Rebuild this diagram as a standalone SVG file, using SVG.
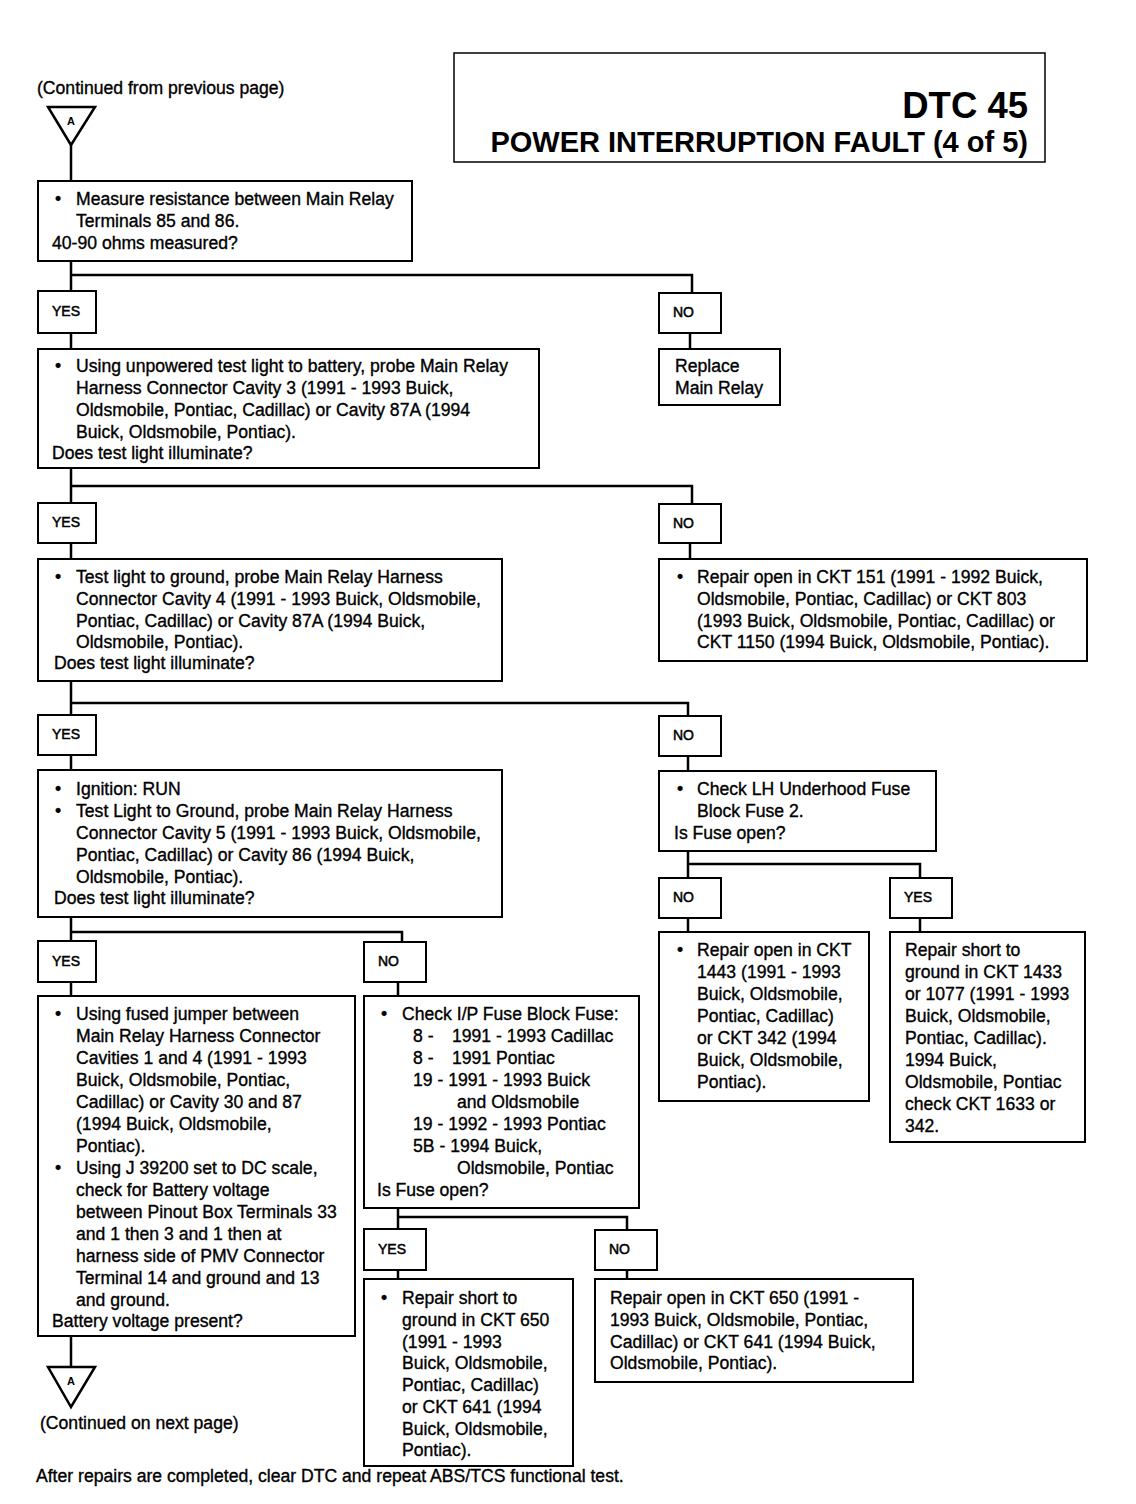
<svg xmlns="http://www.w3.org/2000/svg" width="1136" height="1504" viewBox="0 0 1136 1504">
<style>
.b{fill:#fff;stroke:#000;stroke-width:2}
.h{fill:#fff;stroke:#000;stroke-width:1.5}
.c{fill:none;stroke:#000;stroke-width:2.5}
.t{fill:#fff;stroke:#000;stroke-width:2.5}
text{font-family:"Liberation Sans",Arial,sans-serif;font-size:17.6px;fill:#000;stroke:#000;stroke-width:0.35}
.l{font-size:14px;stroke-width:0.5}
.a{font-size:11px;font-weight:bold;text-anchor:middle;stroke-width:0}
.ti{font-weight:bold;text-anchor:end;stroke-width:0}
</style>
<rect width="1136" height="1504" fill="#fff"/>

<g id="connectors">
<path class="c" d="M71,145 V181"/>
<path class="c" d="M71,261 V291 M71,275 H692 V293 M71,333 V349 M690,333 V349"/>
<path class="c" d="M71,468 V503 M71,486 H692 V504 M71,543 V559 M690,543 V559"/>
<path class="c" d="M71,681 V715 M71,703 H688 V716 M71,755 V770 M688,756 V771"/>
<path class="c" d="M688,851 V878 M688,864 H920 V878 M688,918 V932 M920,918 V932"/>
<path class="c" d="M71,917 V941 M71,932 H402 V942 M71,982 V996 M398,982 V996"/>
<path class="c" d="M398,1208 V1229 M398,1217 H627 V1230 M398,1270 V1279 M627,1270 V1279"/>
<path class="c" d="M71,1336 V1367"/>
</g>

<g id="header">
<rect class="h" x="454" y="53" width="591" height="109"/>
<text class="ti" x="1028" y="118" style="font-size:36.5px">DTC 45</text>
<text class="ti" x="1028" y="152" style="font-size:29px">POWER INTERRUPTION FAULT (4 of 5)</text>
</g>

<g id="start">
<text x="37" y="94">(Continued from previous page)</text>
<polygon class="t" points="48,107 95,107 71,145"/>
<text class="a" x="71" y="125">A</text>
</g>

<g id="box1">
<rect class="b" x="38" y="181" width="374" height="80"/>
<text x="55" y="205">•</text><text x="76" y="205">Measure resistance between Main Relay</text>
<text x="76" y="227">Terminals 85 and 86.</text>
<text x="52" y="249">40-90 ohms measured?</text>
</g>

<g id="yes1"><rect class="b" x="38" y="291" width="58" height="42"/><text class="l" x="52" y="316">YES</text></g>
<g id="no1"><rect class="b" x="659" y="293" width="62" height="40"/><text class="l" x="673" y="317">NO</text></g>

<g id="replace">
<rect class="b" x="659" y="349" width="121" height="56"/>
<text x="675" y="372">Replace</text>
<text x="675" y="394">Main Relay</text>
</g>

<g id="box2">
<rect class="b" x="38" y="349" width="501" height="119"/>
<text x="55" y="372">•</text><text x="76" y="372">Using unpowered test light to battery, probe Main Relay</text>
<text x="76" y="394">Harness Connector Cavity 3 (1991 - 1993 Buick,</text>
<text x="76" y="416">Oldsmobile, Pontiac, Cadillac) or Cavity 87A (1994</text>
<text x="76" y="438">Buick, Oldsmobile, Pontiac).</text>
<text x="52" y="459">Does test light illuminate?</text>
</g>

<g id="yes2"><rect class="b" x="38" y="503" width="58" height="40"/><text class="l" x="52" y="527">YES</text></g>
<g id="no2"><rect class="b" x="659" y="504" width="62" height="39"/><text class="l" x="673" y="528">NO</text></g>

<g id="box3">
<rect class="b" x="38" y="559" width="464" height="122"/>
<text x="55" y="583">•</text><text x="76" y="583">Test light to ground, probe Main Relay Harness</text>
<text x="76" y="605">Connector Cavity 4 (1991 - 1993 Buick, Oldsmobile,</text>
<text x="76" y="627">Pontiac, Cadillac) or Cavity 87A (1994 Buick,</text>
<text x="76" y="648">Oldsmobile, Pontiac).</text>
<text x="54" y="669">Does test light illuminate?</text>
</g>

<g id="repair151">
<rect class="b" x="659" y="559" width="428" height="102"/>
<text x="677" y="583">•</text><text x="697" y="583">Repair open in CKT 151 (1991 - 1992 Buick,</text>
<text x="697" y="605">Oldsmobile, Pontiac, Cadillac) or CKT 803</text>
<text x="697" y="627">(1993 Buick, Oldsmobile, Pontiac, Cadillac) or</text>
<text x="697" y="648">CKT 1150 (1994 Buick, Oldsmobile, Pontiac).</text>
</g>

<g id="yes3"><rect class="b" x="38" y="715" width="58" height="40"/><text class="l" x="52" y="739">YES</text></g>
<g id="no3"><rect class="b" x="659" y="716" width="62" height="40"/><text class="l" x="673" y="740">NO</text></g>

<g id="box4">
<rect class="b" x="38" y="770" width="464" height="147"/>
<text x="55" y="795">•</text><text x="76" y="795">Ignition: RUN</text>
<text x="55" y="817">•</text><text x="76" y="817">Test Light to Ground, probe Main Relay Harness</text>
<text x="76" y="839">Connector Cavity 5 (1991 - 1993 Buick, Oldsmobile,</text>
<text x="76" y="861">Pontiac, Cadillac) or Cavity 86 (1994 Buick,</text>
<text x="76" y="883">Oldsmobile, Pontiac).</text>
<text x="54" y="904">Does test light illuminate?</text>
</g>

<g id="checkLH">
<rect class="b" x="659" y="771" width="277" height="80"/>
<text x="677" y="795">•</text><text x="697" y="795">Check LH Underhood Fuse</text>
<text x="697" y="817">Block Fuse 2.</text>
<text x="674" y="839">Is Fuse open?</text>
</g>

<g id="no4"><rect class="b" x="659" y="878" width="62" height="40"/><text class="l" x="673" y="902">NO</text></g>
<g id="yes4"><rect class="b" x="890" y="878" width="62" height="40"/><text class="l" x="904" y="902">YES</text></g>

<g id="repair1443">
<rect class="b" x="659" y="932" width="210" height="169"/>
<text x="677" y="956">•</text><text x="697" y="956">Repair open in CKT</text>
<text x="697" y="978">1443 (1991 - 1993</text>
<text x="697" y="1000">Buick, Oldsmobile,</text>
<text x="697" y="1022">Pontiac, Cadillac)</text>
<text x="697" y="1044">or CKT 342 (1994</text>
<text x="697" y="1066">Buick, Oldsmobile,</text>
<text x="697" y="1088">Pontiac).</text>
</g>

<g id="repair1433">
<rect class="b" x="890" y="932" width="195" height="210"/>
<text x="905" y="956">Repair short to</text>
<text x="905" y="978">ground in CKT 1433</text>
<text x="905" y="1000">or 1077 (1991 - 1993</text>
<text x="905" y="1022">Buick, Oldsmobile,</text>
<text x="905" y="1044">Pontiac, Cadillac).</text>
<text x="905" y="1066">1994 Buick,</text>
<text x="905" y="1088">Oldsmobile, Pontiac</text>
<text x="905" y="1110">check CKT 1633 or</text>
<text x="905" y="1132">342.</text>
</g>

<g id="yes5"><rect class="b" x="38" y="941" width="58" height="41"/><text class="l" x="52" y="966">YES</text></g>
<g id="no5"><rect class="b" x="364" y="942" width="62" height="40"/><text class="l" x="378" y="966">NO</text></g>

<g id="box6">
<rect class="b" x="38" y="996" width="317" height="340"/>
<text x="55" y="1020">•</text><text x="76" y="1020">Using fused jumper between</text>
<text x="76" y="1042">Main Relay Harness Connector</text>
<text x="76" y="1064">Cavities 1 and 4 (1991 - 1993</text>
<text x="76" y="1086">Buick, Oldsmobile, Pontiac,</text>
<text x="76" y="1108">Cadillac) or Cavity 30 and 87</text>
<text x="76" y="1130">(1994 Buick, Oldsmobile,</text>
<text x="76" y="1152">Pontiac).</text>
<text x="55" y="1174">•</text><text x="76" y="1174">Using J 39200 set to DC scale,</text>
<text x="76" y="1196">check for Battery voltage</text>
<text x="76" y="1218">between Pinout Box Terminals 33</text>
<text x="76" y="1240">and 1 then 3 and 1 then at</text>
<text x="76" y="1262">harness side of PMV Connector</text>
<text x="76" y="1284">Terminal 14 and ground and 13</text>
<text x="76" y="1306">and ground.</text>
<text x="52" y="1327">Battery voltage present?</text>
</g>

<g id="box7">
<rect class="b" x="364" y="996" width="275" height="212"/>
<text x="381" y="1020">•</text><text x="402" y="1020">Check I/P Fuse Block Fuse:</text>
<text x="413" y="1042">8 -</text><text x="452" y="1042">1991 - 1993 Cadillac</text>
<text x="413" y="1064">8 -</text><text x="452" y="1064">1991 Pontiac</text>
<text x="413" y="1086">19 - 1991 - 1993 Buick</text>
<text x="457" y="1108">and Oldsmobile</text>
<text x="413" y="1130">19 - 1992 - 1993 Pontiac</text>
<text x="413" y="1152">5B - 1994 Buick,</text>
<text x="457" y="1174">Oldsmobile, Pontiac</text>
<text x="377" y="1196">Is Fuse open?</text>
</g>

<g id="yes6"><rect class="b" x="364" y="1229" width="62" height="41"/><text class="l" x="378" y="1254">YES</text></g>
<g id="no6"><rect class="b" x="595" y="1230" width="62" height="40"/><text class="l" x="609" y="1254">NO</text></g>

<g id="repair650short">
<rect class="b" x="364" y="1279" width="209" height="187"/>
<text x="381" y="1304">•</text><text x="402" y="1304">Repair short to</text>
<text x="402" y="1326">ground in CKT 650</text>
<text x="402" y="1348">(1991 - 1993</text>
<text x="402" y="1369">Buick, Oldsmobile,</text>
<text x="402" y="1391">Pontiac, Cadillac)</text>
<text x="402" y="1413">or CKT 641 (1994</text>
<text x="402" y="1435">Buick, Oldsmobile,</text>
<text x="402" y="1456">Pontiac).</text>
</g>

<g id="repair650open">
<rect class="b" x="595" y="1279" width="318" height="103"/>
<text x="610" y="1304">Repair open in CKT 650 (1991 -</text>
<text x="610" y="1326">1993 Buick, Oldsmobile, Pontiac,</text>
<text x="610" y="1348">Cadillac) or CKT 641 (1994 Buick,</text>
<text x="610" y="1369">Oldsmobile, Pontiac).</text>
</g>

<g id="end">
<polygon class="t" points="48,1367 95,1367 71,1407"/>
<text class="a" x="71" y="1385">A</text>
<text x="40" y="1429">(Continued on next page)</text>
</g>

<text x="36" y="1482">After repairs are completed, clear DTC and repeat ABS/TCS functional test.</text>
</svg>
